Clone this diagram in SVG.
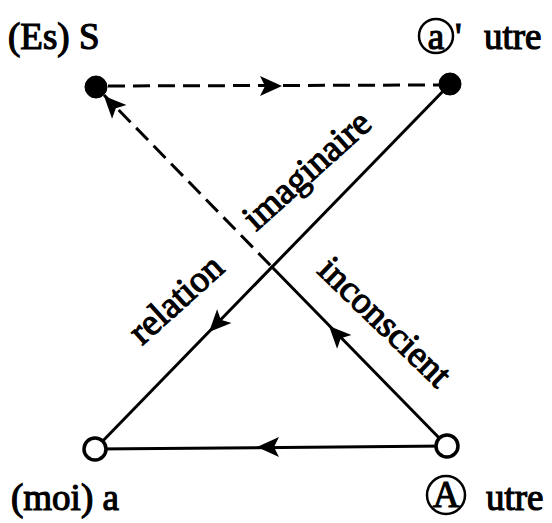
<svg xmlns="http://www.w3.org/2000/svg" xmlns:xlink="http://www.w3.org/1999/xlink" width="552" height="523" viewBox="0 0 552 523">
<style>
.t{font-family:"Liberation Serif","Times New Roman",serif;font-size:37px;fill:#000;stroke:#000;stroke-width:1.2}
.ln{stroke:#000;stroke-width:3;fill:none}
.ds{stroke:#000;stroke-width:3;fill:none;stroke-dasharray:17 8}
.filled{fill:#000;stroke:#000;stroke-width:1}
.open{fill:#fff;stroke:#000;stroke-width:3.5}
.ring{fill:none;stroke:#000;stroke-width:2.5}
</style>
<defs>
<path id="ah" d="M0,0 L-22,-10 L-17,0 L-22,10 Z" fill="#000"/>
</defs>
<rect width="552" height="523" fill="#fff"/>
<g id="connectors">
<line class="ds" x1="108" y1="86" x2="440" y2="85"/>
<use xlink:href="#ah" transform="translate(282,86)"/>
<line class="ln" x1="450" y1="84" x2="95" y2="449"/>
<use xlink:href="#ah" transform="translate(209,332) rotate(134)"/>
<line class="ds" x1="104" y1="95" x2="271" y2="266" stroke-dashoffset="4"/>
<line class="ln" x1="271" y1="266" x2="447" y2="446"/>
<use xlink:href="#ah" transform="translate(104,96) rotate(-134)"/>
<use xlink:href="#ah" transform="translate(329,326) rotate(-134)"/>
<line class="ln" x1="447" y1="446" x2="95" y2="449"/>
<use xlink:href="#ah" transform="translate(257,447) rotate(180)"/>
</g>
<g id="node-S">
<circle class="filled" cx="96" cy="87" r="11"/>
<text class="t" x="8" y="49">(Es) S</text>
</g>
<g id="node-a-prime">
<circle class="filled" cx="450" cy="84" r="11"/>
<circle class="ring" cx="436" cy="36" r="17"/>
<text class="t" x="436" y="49" text-anchor="middle">a</text>
<text class="t" x="455" y="49">'</text>
<text class="t" x="484" y="49">utre</text>
</g>
<g id="node-moi">
<circle class="open" cx="95" cy="449" r="11"/>
<text class="t" x="11" y="510">(moi) a</text>
</g>
<g id="node-A">
<circle class="open" cx="447" cy="446" r="11"/>
<circle class="ring" cx="446" cy="495" r="19"/>
<text class="t" x="446" y="507" text-anchor="middle">A</text>
<text class="t" x="486" y="510">utre</text>
</g>
<g id="labels">
<text class="t" transform="translate(142,346) rotate(-42)">relation</text>
<text class="t" transform="translate(256,232) rotate(-42)">imaginaire</text>
<text class="t" transform="translate(316,272) rotate(44)">inconscient</text>
</g>
</svg>
